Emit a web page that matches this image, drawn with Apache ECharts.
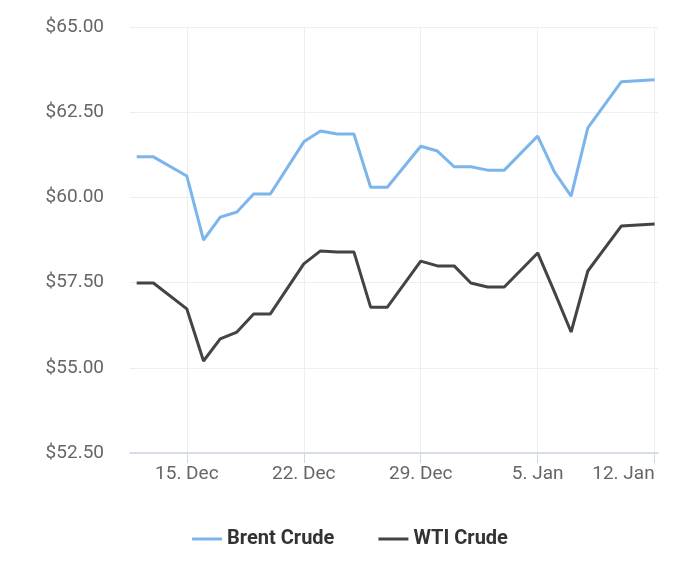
<!DOCTYPE html>
<html><head><meta charset="utf-8">
<script src="https://cdn.jsdelivr.net/npm/echarts@6/dist/echarts.min.js"></script>
<style>html,body{margin:0;padding:0;background:#fff}#c{width:700px;height:568px}</style>
</head><body><div id="c"></div>
<script>
const dates = ['2024-12-12','2024-12-13','2024-12-15','2024-12-16','2024-12-17','2024-12-18','2024-12-19','2024-12-20',
  '2024-12-22','2024-12-23','2024-12-24','2024-12-25','2024-12-26','2024-12-27','2024-12-29','2024-12-30','2024-12-31',
  '2025-01-01','2025-01-02','2025-01-03','2025-01-05','2025-01-06','2025-01-07','2025-01-08','2025-01-10','2025-01-12']
const brent = [61.19,61.19,60.63,58.75,59.42,59.57,60.1,60.1,61.63,61.95,61.86,61.86,60.3,60.3,61.5,61.36,60.9,
  60.9,60.8,60.8,61.8,60.75,60.04,62.04,63.39,63.45]
const wti = [57.49,57.49,56.73,55.2,55.85,56.05,56.58,56.58,58.05,58.43,58.4,58.4,56.78,56.78,58.13,57.99,57.99,
  57.49,57.37,57.37,58.37,57.23,56.05,57.84,59.16,59.22]
const tickDays = [0, 7, 14, 21, 28]
const yTicks = [52.5, 55, 57.5, 60, 62.5, 65]

const DAY = 86400000
const base = Date.UTC(2024, 11, 15)
const months = ['Jan','Feb','Mar','Apr','May','Jun','Jul','Aug','Sep','Oct','Nov','Dec']
const toDay = s => (Date.parse(s + 'T00:00:00Z') - base) / DAY
const fmtDay = v => { const d = new Date(base + v * DAY); return d.getUTCDate() + '. ' + months[d.getUTCMonth()] }

const chart = echarts.init(document.getElementById('c'))
chart.setOption({
  animation: false,
  color: ['#7cb5ec', '#434348'],
  grid: { left: 130, right: 42, top: 27, bottom: 115 },
  legend: {
    bottom: 14, itemWidth: 30, itemHeight: 3, itemGap: 44, icon: 'rect',
    textStyle: { fontFamily: 'Roboto', fontSize: 20, fontWeight: 'bold', color: '#333' }
  },
  xAxis: {
    type: 'value', min: -3.4, max: 28.2,
    axisLine: { lineStyle: { color: '#ccd6eb', width: 1.5 } },
    axisTick: { show: true, customValues: tickDays, length: 10, lineStyle: { color: '#ccd6eb' } },
    axisLabel: { customValues: tickDays, formatter: fmtDay, fontFamily: 'Roboto', fontSize: 19, color: '#666', margin: 12,
      alignMaxLabel: 'right' },
    splitLine: { show: true, lineStyle: { color: '#eeeeee' } }
  },
  yAxis: {
    type: 'value', min: 52.5, max: 65, interval: 2.5,
    axisLine: { show: false }, axisTick: { show: false },
    axisLabel: { formatter: v => '$' + v.toFixed(2), fontFamily: 'Roboto', fontSize: 19, color: '#666', margin: 26 },
    splitLine: { lineStyle: { color: '#eeeeee' } }
  },
  series: [
    { name: 'Brent Crude', type: 'line', showSymbol: false, lineStyle: { width: 3 },
      data: dates.map((d, i) => [toDay(d), brent[i]]) },
    { name: 'WTI Crude', type: 'line', showSymbol: false, lineStyle: { width: 3 },
      data: dates.map((d, i) => [toDay(d), wti[i]]) }
  ]
})
</script></body></html>
